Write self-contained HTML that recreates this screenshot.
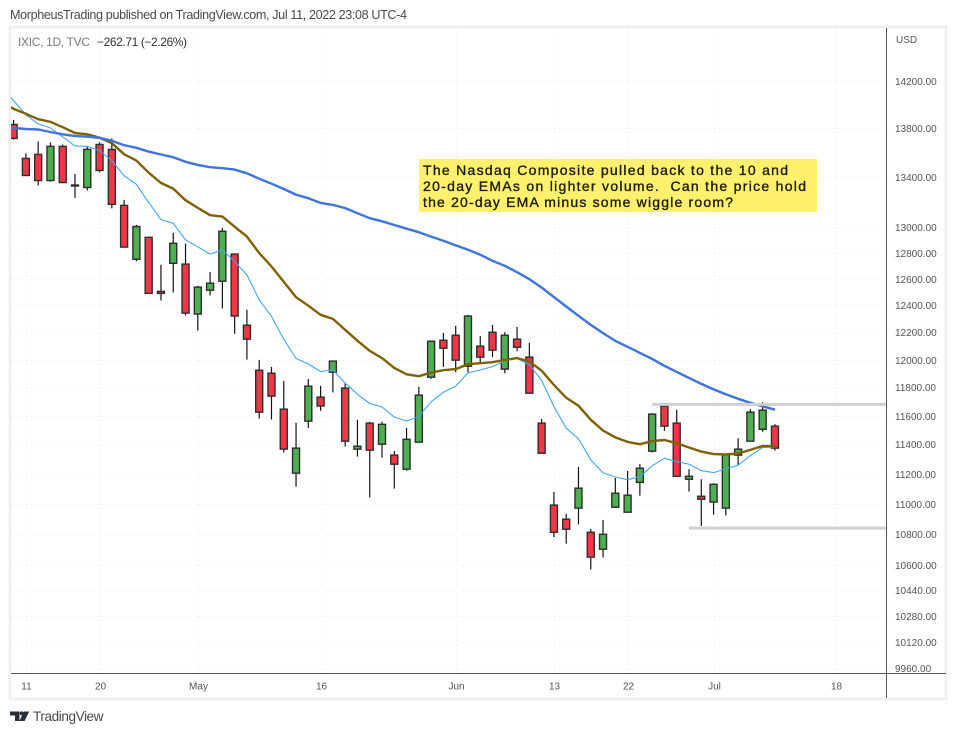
<!DOCTYPE html>
<html lang="en">
<head>
<meta charset="utf-8">
<title>IXIC 1D chart</title>
<style>
html,body{margin:0;padding:0;background:#fff;width:956px;height:734px;overflow:hidden}
svg{display:block;font-family:"Liberation Sans",sans-serif}
</style>
</head>
<body>
<svg id="chart" width="956" height="734" viewBox="0 0 956 734" xmlns="http://www.w3.org/2000/svg">
  <defs>
    <clipPath id="plot-clip"><rect x="11" y="28" width="875" height="645"/></clipPath>
  </defs>
  <rect x="0" y="0" width="956" height="734" fill="#ffffff"/>
  <text x="10" y="19" font-size="12.6" fill="#4a4a4a" textLength="397" lengthAdjust="spacing">MorpheusTrading published on TradingView.com, Jul 11, 2022 23:08 UTC-4</text>
  <rect x="10" y="27" width="936" height="672" fill="none" stroke="#eeeef3" stroke-width="2.5"/>
  <g id="grid"></g>
  <g id="plot" clip-path="url(#plot-clip)"></g>
  <line x1="886.5" y1="28" x2="886.5" y2="698" stroke="#555" stroke-width="1"/>
  <line x1="11" y1="673.5" x2="946" y2="673.5" stroke="#555" stroke-width="1"/>
  <g id="price-labels"></g>
  <g id="time-labels"></g>
  <text x="896" y="43" font-size="10" fill="#555">USD</text>
  <text x="18" y="46" font-size="12" fill="#7a7a7a" textLength="72" lengthAdjust="spacing">IXIC, 1D, TVC</text>
  <text x="97" y="46" font-size="12" fill="#333" textLength="90" lengthAdjust="spacing">−262.71 (−2.26%)</text>
  <g>
    <rect x="419" y="159" width="398" height="53" fill="#fff06e"/>
    <g font-size="14" fill="#1c1c00" stroke="#1c1c00" stroke-width="0.35">
      <text x="423" y="175" textLength="365" lengthAdjust="spacing">The Nasdaq Composite pulled back to the 10 and</text>
      <text x="423" y="191" textLength="383" lengthAdjust="spacing" xml:space="preserve">20-day EMAs on lighter volume.  Can the price hold</text>
      <text x="423" y="207" textLength="310" lengthAdjust="spacing">the 20-day EMA minus some wiggle room?</text>
    </g>
  </g>
  <g>
    <g fill="#2a2e39">
      <path d="M10 711.5h9.5v9.5h-4.5v-5.5h-5z"/>
      <circle cx="21.7" cy="713.4" r="2"/>
      <path d="M24 711.5h5.2l-4.6 9.5h-5.2z"/>
    </g>
    <text x="33" y="721" font-size="13.6" fill="#4a4a4a" textLength="70.5" lengthAdjust="spacing">TradingView</text>
  </g>
</svg>
<script>
const opens = [13832,13551,13584,13371,13650,13335,13315,13666,13625,13172,12750,12920,12505,12719,12713,12335,12514,12582,12790,12252,11923,11902,11646,11204,11562,11731,11909,11795,11368,11548,11402,11327,11231,11416,11873,12141,12178,11952,12098,12200,11931,12149,12018,11548,10990,10897,10970,10811,10701,10976,10943,11142,11354,11668,11548,11163,11049,11010,10970,11327,11423,11505,11527];
const highs = [13870,13592,13691,13683,13666,13424,13650,13683,13716,13216,13017,12924,12708,12955,12870,12547,12653,12993,12790,12367,11998,11947,11846,11550,11860,11811,11989,11832,11571,11557,11557,11356,11515,11804,12134,12194,12247,12329,12173,12254,12200,12239,12122,11578,11078,10932,11247,10832,10892,11172,11219,11267,11618,11682,11642,11231,11163,11136,11331,11443,11646,11696,11541];
const lows = [13707,13412,13331,13363,13355,13232,13291,13437,13148,12844,12735,12487,12436,12496,12324,12212,12474,12377,12189,12000,11580,11573,11345,11113,11515,11634,11764,11386,11317,11040,11310,11100,11221,11416,11862,11947,11909,11909,11974,12018,11901,12061,11759,11340,10780,10737,10863,10570,10647,10972,10940,11053,11345,11495,11183,11080,10852,10927,10921,11258,11423,11488,11358];
const closes = [13716,13412,13371,13650,13355,13327,13625,13453,13180,12844,13005,12490,12490,12874,12342,12537,12567,12968,12320,12149,11625,11738,11368,11375,11809,11668,11989,11423,11388,11361,11540,11265,11436,11745,12134,12083,11996,12320,12018,12069,12178,12090,11759,11340,10811,10831,11103,10650,10798,11069,11056,11238,11611,11527,11183,11183,11029,11129,11331,11368,11625,11639,11375];

/* EMA series begin one session before the first visible candle */
const emaFirstIndex = -1;
const ema10 = [14158,14031,13913,13837,13803,13728,13654,13650,13615,13533,13410,13341,13194,13059,13030,12901,12846,12790,12823,12733,12630,12442,12317,12149,12008,11969,11913,11925,11830,11752,11686,11661,11590,11562,11595,11698,11766,11809,11904,11925,11949,11991,12008,11962,11851,11665,11513,11440,11295,11206,11178,11160,11180,11254,11306,11283,11265,11221,11208,11233,11258,11324,11379,11382];
const ema20 = [14023,13963,13921,13876,13854,13809,13761,13750,13722,13676,13586,13533,13435,13351,13306,13213,13152,13094,13083,13003,12926,12798,12694,12577,12462,12397,12329,12299,12217,12138,12064,12011,11940,11894,11880,11906,11923,11931,11967,11974,11981,11998,12011,11986,11920,11818,11726,11670,11571,11497,11449,11418,11402,11423,11431,11409,11379,11351,11334,11331,11338,11363,11390,11388];
const ema50 = [13807,13803,13794,13790,13769,13750,13736,13730,13720,13697,13660,13638,13607,13583,13561,13523,13498,13479,13471,13460,13430,13386,13346,13303,13258,13229,13192,13176,13150,13110,13070,13046,13017,12988,12960,12926,12893,12857,12823,12785,12738,12700,12651,12597,12534,12462,12391,12322,12254,12194,12136,12093,12049,12005,11955,11911,11868,11825,11786,11751,11719,11691,11666,11642];

const priceTicks = [14200,13800,13400,13000,12800,12600,12400,12200,12000,11800,11600,11400,11200,11000,10800,10600,10440,10280,10120,9960];
const timeTickLabels = ['11','20','May','16','Jun','13','22','Jul','18'];
const timeTickIndexes = [1,7,15,25,36,44,50,57,67];
const resistanceLevel = [52, 11680];
const supportLevel = [55, 10838];

const NS = 'http://www.w3.org/2000/svg';
const xAxis = function (i) { return 13.6 + 12.28 * i; };
const yAxis = function (price) { return 81 + 1655 * Math.log(14200 / price); };
const plotLeft = 11, plotRight = 886, plotTop = 28, plotBottom = 673;

function make(tag, attrs, parent) {
  const el = document.createElementNS(NS, tag);
  for (const k in attrs) el.setAttribute(k, attrs[k]);
  parent.appendChild(el);
  return el;
}

const gridLayer = document.getElementById('grid');
const plotLayer = document.getElementById('plot');
const priceLayer = document.getElementById('price-labels');
const timeLayer = document.getElementById('time-labels');

priceTicks.forEach(function (p) {
  const y = Math.round(yAxis(p)) + 0.5;
  const line = make('line', {x1: plotLeft, x2: plotRight, y1: y, y2: y, stroke: '#ebebee', 'stroke-width': 1, 'stroke-dasharray': '1 3'}, gridLayer);
  
  
  const label = make('text', {x: 895, y: y + 3.5, 'font-size': 10, fill: '#555'}, priceLayer);
  
  
  label.textContent = p.toFixed(2);
});

timeTickIndexes.forEach(function (idx, n) {
  const x = Math.round(xAxis(idx)) + 0.5;
  const line = make('line', {x1: x, x2: x, y1: plotTop, y2: plotBottom, stroke: '#ebebee', 'stroke-width': 1, 'stroke-dasharray': '1 3'}, gridLayer);
  
  
  const label = make('text', {x: x, y: 689.5, 'font-size': 10, fill: '#555', 'text-anchor': 'middle'}, timeLayer);
  
  
  label.textContent = timeTickLabels[n];
});

opens.forEach(function (o, i) {
  const c = closes[i];
  const x = xAxis(i);
  const up = c >= o;
  const top = yAxis(Math.max(o, c));
  const bottom = yAxis(Math.min(o, c));
  const wick = make('line', {x1: x, x2: x, y1: yAxis(highs[i]), y2: yAxis(lows[i]), stroke: '#141414', 'stroke-width': 1.2}, plotLayer);
  
  
  const body = make('rect', {x: x - 3.5, y: top, width: 7, height: Math.max(bottom - top, 0.6), fill: up ? '#4caf50' : '#f23645', stroke: '#2e2e2e', 'stroke-width': 1.4}, plotLayer);
  
  
});

function drawLine(values, name, color, width) {
  const pts = values.map(function (v, i) { return xAxis(i + emaFirstIndex).toFixed(1) + ',' + yAxis(v).toFixed(1); }).join(' ');
  const line = make('polyline', {points: pts, fill: 'none', stroke: color, 'stroke-width': width, 'stroke-linejoin': 'round'}, plotLayer);
  
  
}
drawLine(ema10, 'ema-10-line', '#42a5f5', 1.1);
drawLine(ema20, 'ema-20-line', '#806000', 2.4);
drawLine(ema50, 'ema-50-line', '#3e74dc', 2.4);

function drawLevel(level, name) {
  const y = yAxis(level[1]);
  const line = make('line', {x1: xAxis(level[0]), x2: plotRight, y1: y, y2: y, stroke: '#cfcfd4', 'stroke-width': 3}, plotLayer);
  
  
}
drawLevel(resistanceLevel, 'resistance-level-line');
drawLevel(supportLevel, 'support-level-line');
</script>
</body>
</html>
